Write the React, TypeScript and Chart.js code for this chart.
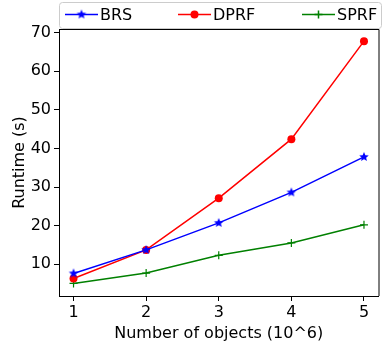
import React, { useEffect, useRef } from "react";
import { Chart, registerables } from "chart.js";

Chart.register(...registerables);

const objects = [1, 2, 3, 4, 5];
const brs = [7.6, 13.7, 20.7, 28.6, 37.8];
const dprf = [6.3, 13.7, 27.1, 42.4, 67.8];
const sprf = [5.0, 7.7, 12.3, 15.5, 20.2];
const yTicks = [10, 20, 30, 40, 50, 60, 70];
const xTicks = [1, 2, 3, 4, 5];

const FONT = "'DejaVu Sans', sans-serif";

function makeStar(color: string, r: number) {
  const size = Math.ceil(r * 2 + 2);
  const c = document.createElement("canvas");
  c.width = size;
  c.height = size;
  const ctx = c.getContext("2d")!;
  const cx = size / 2;
  const cy = size / 2;
  ctx.beginPath();
  for (let i = 0; i < 10; i++) {
    const rad = i % 2 === 0 ? r : r * 0.45;
    const a = -Math.PI / 2 + (i * Math.PI) / 5;
    const x = cx + rad * Math.cos(a);
    const y = cy + rad * Math.sin(a);
    if (i === 0) ctx.moveTo(x, y);
    else ctx.lineTo(x, y);
  }
  ctx.closePath();
  ctx.fillStyle = color;
  ctx.fill();
  return c;
}

export default function App() {
  const ref = useRef<HTMLCanvasElement>(null);
  useEffect(() => {
    document.body.style.margin = "0";
    const star = makeStar("#0000ff", 5);
    const legendItems = [
      { label: "BRS", color: "#0000ff", x0: 65, kind: "star" },
      { label: "DPRF", color: "#ff0000", x0: 178, kind: "circle" },
      { label: "SPRF", color: "#008000", x0: 302, kind: "cross" },
    ];
    const framePlugin = {
      id: "frame",
      afterDraw(chart: any) {
        const { ctx, chartArea } = chart;
        ctx.save();
        ctx.strokeStyle = "#000";
        ctx.lineWidth = 1;
        ctx.beginPath();
        ctx.moveTo(chartArea.left, chartArea.top + 0.5);
        ctx.lineTo(chartArea.right + 0.5, chartArea.top + 0.5);
        ctx.lineTo(chartArea.right + 0.5, chartArea.bottom);
        ctx.stroke();
        // legend box
        const lx = 59.5, ly = 2.5, lw = 322, lh = 26, r = 3;
        ctx.beginPath();
        ctx.moveTo(lx + r, ly);
        ctx.lineTo(lx + lw - r, ly);
        ctx.quadraticCurveTo(lx + lw, ly, lx + lw, ly + r);
        ctx.lineTo(lx + lw, ly + lh - r);
        ctx.quadraticCurveTo(lx + lw, ly + lh, lx + lw - r, ly + lh);
        ctx.lineTo(lx + r, ly + lh);
        ctx.quadraticCurveTo(lx, ly + lh, lx, ly + lh - r);
        ctx.lineTo(lx, ly + r);
        ctx.quadraticCurveTo(lx, ly, lx + r, ly);
        ctx.closePath();
        ctx.fillStyle = "rgba(255,255,255,0.85)";
        ctx.fill();
        ctx.strokeStyle = "#cccccc";
        ctx.stroke();
        const cy = 14.5;
        ctx.font = `16px ${FONT}`;
        ctx.textBaseline = "middle";
        ctx.textAlign = "left";
        for (const it of legendItems) {
          ctx.strokeStyle = it.color;
          ctx.lineWidth = 1.5;
          ctx.beginPath();
          ctx.moveTo(it.x0, cy);
          ctx.lineTo(it.x0 + 33, cy);
          ctx.stroke();
          const mx = it.x0 + 16.5;
          if (it.kind === "star") {
            ctx.drawImage(star, mx - star.width / 2, cy - star.height / 2);
          } else if (it.kind === "circle") {
            ctx.fillStyle = it.color;
            ctx.beginPath();
            ctx.arc(mx, cy, 4, 0, Math.PI * 2);
            ctx.fill();
          } else {
            ctx.beginPath();
            ctx.moveTo(mx - 4, cy);
            ctx.lineTo(mx + 4, cy);
            ctx.moveTo(mx, cy - 4);
            ctx.lineTo(mx, cy + 4);
            ctx.stroke();
          }
          ctx.fillStyle = "#000";
          ctx.fillText(it.label, it.x0 + 35, cy + 1);
        }
        ctx.restore();
      },
    };
    const chart = new Chart(ref.current!, {
      type: "line",
      data: {
        labels: objects,
        datasets: [
          {
            label: "BRS",
            data: objects.map((x, i) => ({ x, y: brs[i] })),
            borderColor: "#0000ff",
            backgroundColor: "#0000ff",
            borderWidth: 1.5,
            pointStyle: star as any,
            pointRadius: 5,
          },
          {
            label: "DPRF",
            data: objects.map((x, i) => ({ x, y: dprf[i] })),
            borderColor: "#ff0000",
            backgroundColor: "#ff0000",
            borderWidth: 1.5,
            pointStyle: "circle",
            pointRadius: 4,
            pointBorderWidth: 0,
          },
          {
            label: "SPRF",
            data: objects.map((x, i) => ({ x, y: sprf[i] })),
            borderColor: "#008000",
            backgroundColor: "#008000",
            borderWidth: 1.5,
            pointStyle: "cross",
            pointRadius: 4,
            pointBorderWidth: 1.2,
          },
        ],
      },
      options: {
        responsive: false,
        animation: false,
        layout: { padding: { left: 0, top: 29, right: 3, bottom: 0 } },
        plugins: { legend: { display: false }, tooltip: { enabled: false } },
        scales: {
          x: {
            type: "linear",
            min: 0.8,
            max: 5.2,
            afterBuildTicks: (s: any) => {
              s.ticks = xTicks.map((v) => ({ value: v }));
            },
            afterFit: (s: any) => {
              s.height = 47;
            },
            grid: { drawOnChartArea: false, drawTicks: true, tickLength: 5, color: "#000" },
            border: { display: true, color: "#000", width: 1 },
            ticks: { color: "#000", font: { family: FONT, size: 16 }, padding: 2, maxRotation: 0 },
            title: {
              display: true,
              text: "Number of objects (10^6)",
              color: "#000",
              font: { family: FONT, size: 16 },
              padding: { top: 2, bottom: 0 },
            },
          },
          y: {
            type: "linear",
            min: 1.75,
            max: 70.95,
            afterBuildTicks: (s: any) => {
              s.ticks = yTicks.map((v) => ({ value: v }));
            },
            afterFit: (s: any) => {
              s.width = 59;
            },
            grid: { drawOnChartArea: false, drawTicks: true, tickLength: 5, color: "#000" },
            border: { display: true, color: "#000", width: 1 },
            ticks: { color: "#000", font: { family: FONT, size: 16 }, padding: 3 },
            title: {
              display: true,
              text: "Runtime (s)",
              color: "#000",
              font: { family: FONT, size: 16 },
              padding: { top: 10, bottom: 4 },
            },
          },
        },
      },
      plugins: [framePlugin],
    });
    return () => chart.destroy();
  }, []);
  return <canvas ref={ref} width={385} height={343} style={{ display: "block" }} />;
}
